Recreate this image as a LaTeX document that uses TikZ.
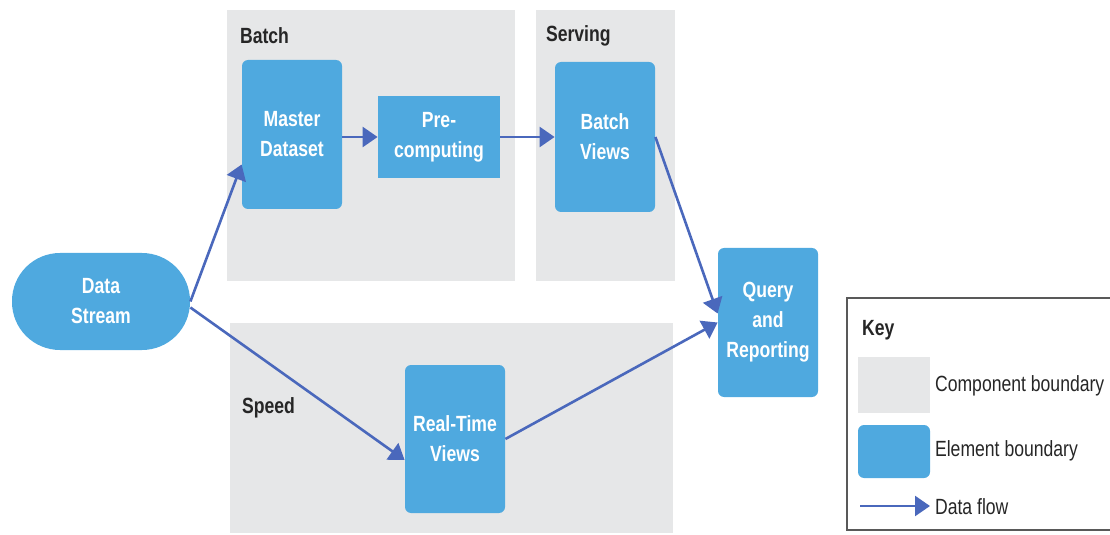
\documentclass[tikz,border=0pt]{standalone}
\usepackage{fontspec}
\setmainfont{Liberation Sans}[FakeStretch=0.8]
\usetikzlibrary{arrows.meta}
\definecolor{compgray}{HTML}{E6E7E8}
\definecolor{elemblue}{HTML}{4FA9DF}
\definecolor{flowblue}{HTML}{4A68BC}
\definecolor{labelgray}{HTML}{262626}
\begin{document}
\begin{tikzpicture}[x=0.5pt,y=-0.5pt,
  comp/.style={fill=compgray, inner sep=0pt},
  elem/.style={fill=elemblue, rounded corners=3pt, text=white, align=center,
    inner sep=0pt, font=\fontsize{11}{15}\selectfont\bfseries},
  complabel/.style={anchor=west, text=labelgray, font=\fontsize{11}{13}\selectfont\bfseries},
  keytext/.style={anchor=west, text=labelgray, font=\fontsize{11}{13}\selectfont},
  flow/.style={draw=flowblue, line width=1.3pt, -{Triangle[length=7.5pt,width=10pt]}}]
\useasboundingbox (0,0) rectangle (1110,535);

% component boundaries
\node[comp, minimum width=144pt, minimum height=135.5pt] (batch) at (371,145.5) {};
\node[comp, minimum width=69.5pt, minimum height=135.5pt] (serving) at (605.5,145.5) {};
\node[comp, minimum width=221.5pt, minimum height=105pt] (speed) at (451.5,428) {};
\node[complabel] (batchlbl) at (233,36) {Batch};
\node[complabel] (servlbl) at (539,36) {Serving};
\node[complabel] (speedlbl) at (235,408) {Speed};

% elements
\node[elem, rounded corners=24pt, minimum width=89pt, minimum height=48.5pt] (ds) at (101,301.5) {Data\\Stream};
\node[elem, minimum width=50pt, minimum height=74.5pt] (ms) at (292,134.5) {Master\\Dataset};
\node[elem, sharp corners, minimum width=61pt, minimum height=41pt] (pc) at (439,137) {Pre-\\computing};
\node[elem, minimum width=50pt, minimum height=75pt] (bv) at (605,137) {Batch\\Views};
\node[elem, minimum width=50pt, minimum height=74.5pt] (qr) at (768,322.5) {Query\\and\\Reporting};
\node[elem, minimum width=50pt, minimum height=74pt] (rtv) at (455,439) {Real-Time\\Views};

% data flows
\draw[flow] (ds.east) -- ([yshift=-15pt]ms.west);
\draw[flow] ([yshift=-3pt]ds.east) -- ([yshift=-10.5pt]rtv.west);
\draw[flow] (ms.east |- pc.west) -- (pc.west);
\draw[flow] (pc.east) -- (bv.west |- pc.east);
\draw[flow] (bv.east) -- ([yshift=4.5pt]qr.west);
\draw[flow] (rtv.east) -- (qr.west);

% key
\draw[draw=black!65, line width=0.8pt] (847,298) rectangle (1116,530);
\node[anchor=west, text=labelgray, font=\fontsize{11}{13}\selectfont\bfseries] (keylbl) at (855,330) {Key};
\node[comp, minimum width=36pt, minimum height=28pt] (keycomp) at (894,385) {};
\node[elem, minimum width=36pt, minimum height=26.5pt] (keyelem) at (894,451.5) {};
\coordinate (keyfrom) at (860,506);
\coordinate (keyto) at (930,506);
\draw[flow] (keyfrom) -- (keyto);
\node[keytext] (keycomptxt) at (928,386) {Component boundary};
\node[keytext] (keyelemtxt) at (928,451) {Element boundary};
\node[keytext] (keyflowtxt) at (928,507) {Data flow};
\end{tikzpicture}
\end{document}
